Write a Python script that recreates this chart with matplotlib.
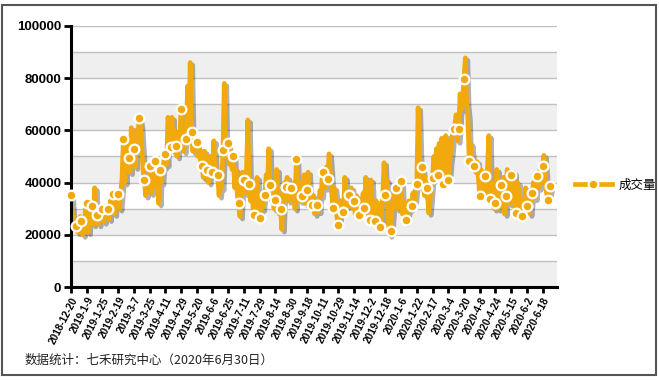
import matplotlib
matplotlib.use("Agg")
import matplotlib.pyplot as plt
import matplotlib.patheffects as pe
from matplotlib.patches import Rectangle
import numpy as np

# daily turnover, thousands of lots, 2018-12-20 .. 2020-06-30
volume_k = [
    35.4, 28, 24, 26, 23.3, 21, 25, 27, 25.2, 20, 22, 30, 32.2, 21, 31, 32,
    30.9, 24, 38, 29, 27.7, 24, 30, 26, 29.7, 25, 31, 28, 29.7, 26, 33, 30,
    35.8, 28, 34, 36, 35.8, 30, 36, 42, 56.8, 40, 55, 52, 49.5, 44, 61, 58,
    52.9, 46, 60, 56, 64.6, 62, 54, 45, 40.9, 35, 42, 38, 46.5, 36, 44, 40,
    48.2, 38, 44, 32, 45.0, 40, 48, 46, 50.8, 47, 65, 62, 53.7, 65, 52, 60,
    54.0, 50, 58, 56, 68.3, 55, 52, 57, 56.8, 77, 58, 86, 59.3, 52, 56, 54,
    55.5, 50, 53, 48, 46.5, 42, 52, 44, 45.0, 40, 50, 43, 44.0, 56, 42, 45,
    43.1, 35, 40, 38, 52.4, 78, 50, 55, 55.0, 47, 52, 45, 50.1, 38, 45, 35,
    32.2, 27, 38, 44, 40.9, 36, 45, 64, 39.6, 33, 40, 30, 27.7, 32, 42, 30,
    26.5, 34, 30, 36, 35.2, 43, 38, 53, 38.9, 33, 36, 30, 33.2, 45, 38, 28,
    29.7, 22, 35, 40, 38.4, 42, 33, 36, 38.0, 34, 40, 30, 49.1, 35, 40, 33,
    34.8, 38, 43, 32, 37.1, 44, 33, 36, 31.6, 35, 28, 33, 31.6, 29, 37, 35,
    44.0, 40, 38, 46, 41.2, 51, 44, 36, 30.3, 38, 34, 27, 23.9, 28, 33, 30,
    28.6, 42, 36, 31, 35.2, 32, 38, 30, 32.9, 28, 35, 33, 27.7, 33, 30, 36,
    30.3, 42, 34, 28, 25.8, 41, 30, 27, 25.2, 33, 28, 30, 22.9, 27, 35, 47.6,
    35.4, 41, 26, 20, 21.4, 28, 35, 38, 38.0, 30, 36, 41, 40.5, 28, 33, 25,
    25.6, 29, 33, 30, 31.2, 36, 33, 38, 39.3, 68.7, 50, 42, 46.0, 38, 35, 42,
    38.0, 28.4, 33, 40, 41.8, 50, 44, 53, 43.1, 55, 48, 57, 39.3, 45, 58, 55,
    40.9, 48, 52, 58, 60.4, 62, 66, 56, 60.7, 74, 68, 72, 79.8, 87.8, 70, 65,
    48.2, 55, 50, 45, 46.5, 44, 48, 42, 34.8, 45, 40, 38, 42.5, 36, 46, 58,
    33.8, 40, 36, 30, 32.2, 45, 30, 36, 38.9, 34, 42, 28, 34.8, 45, 38, 32,
    42.8, 36, 44, 30, 28.4, 40, 35, 31, 27.1, 33, 29, 38, 31.2, 35, 28, 33,
    36.0, 40, 34, 41, 42.7, 38, 45, 40, 46.3, 50.4, 44, 36, 33.5, 36, 38.6,
]

tick_labels = [
    "2018-12-20", "2019-1-9", "2019-1-25", "2019-2-19", "2019-3-7", "2019-3-25",
    "2019-4-11", "2019-4-29", "2019-5-20", "2019-6-6", "2019-6-25", "2019-7-11",
    "2019-7-29", "2019-8-14", "2019-8-30", "2019-9-18", "2019-10-11", "2019-10-29",
    "2019-11-14", "2019-12-2", "2019-12-18", "2020-1-6", "2020-1-22", "2020-2-17",
    "2020-3-4", "2020-3-20", "2020-4-8", "2020-4-24", "2020-5-15", "2020-6-2",
    "2020-6-18",
]

series_name = "成交量"
source_note = "数据统计：七禾研究中心（2020年6月30日）"

ORANGE = "#F1A90C"
CJK = ["Noto Sans CJK SC", "DejaVu Sans"]

plt.rcParams["font.family"] = ["Liberation Sans", "DejaVu Sans"]

vol = np.array(volume_k) * 1000
x = np.arange(len(vol))

fig = plt.figure(figsize=(6.59, 3.81), dpi=100)
fig.patches.append(Rectangle((2 / 659, 6 / 381), 654 / 659, 370 / 381,
                             transform=fig.transFigure, fill=False,
                             edgecolor="#555555", lw=1.5))

ax = fig.add_axes([71 / 659, 1 - 287 / 381, (557 - 71) / 659, (287 - 26) / 381])

# alternating bands + grid
for lo in range(0, 100000, 20000):
    ax.axhspan(lo, lo + 10000, color="#EFEFEF", zorder=0, lw=0)
for g in range(10000, 100001, 10000):
    ax.axhline(g, color="#C0C0C0", lw=1, zorder=1)

marks = list(range(0, len(vol), 4)) + [len(vol) - 1]
ax.plot(x, vol, color=ORANGE, lw=3.4, solid_joinstyle="round", zorder=3,
        path_effects=[pe.SimpleLineShadow(offset=(1.8, -1.8), shadow_color="k", alpha=0.3),
                      pe.Normal()])
ax.plot(x[marks], vol[marks], ls="none", marker="o", ms=7, mfc=ORANGE,
        mec="white", mew=1.6, zorder=6, clip_on=False)

ax.set_xlim(0, 371)
ax.set_ylim(0, 100000)
ax.set_yticks(range(0, 100001, 20000))
ax.set_yticklabels([str(v) for v in range(0, 100001, 20000)],
                   fontsize=9.5, fontweight="bold")
ax.set_xticks(range(0, 12 * len(tick_labels), 12))
ax.set_xticklabels(tick_labels, rotation=63, ha="right", rotation_mode="anchor",
                   fontsize=7.2, fontweight="bold")

for s in ("top", "right"):
    ax.spines[s].set_visible(False)
for s in ("left", "bottom"):
    ax.spines[s].set_linewidth(2.2)
    ax.spines[s].set_zorder(5)
ax.tick_params(axis="y", length=5, width=2, pad=2)
ax.tick_params(axis="x", length=4, width=2, pad=2)

h, = ax.plot([], [], color=ORANGE, lw=3.4, marker="o", ms=7, mfc=ORANGE,
             mec="white", mew=1.6)
leg = fig.legend([h], [series_name], loc="center left",
                 bbox_to_anchor=(564 / 659, 1 - 185 / 381), frameon=False,
                 handlelength=2.9, handletextpad=0.6, prop={"family": CJK, "size": 9})

fig.text(25 / 659, 1 - 360 / 381, source_note, family=CJK, fontsize=9,
         va="center", ha="left", color="#222222")

fig.savefig("out.png", dpi=100)
